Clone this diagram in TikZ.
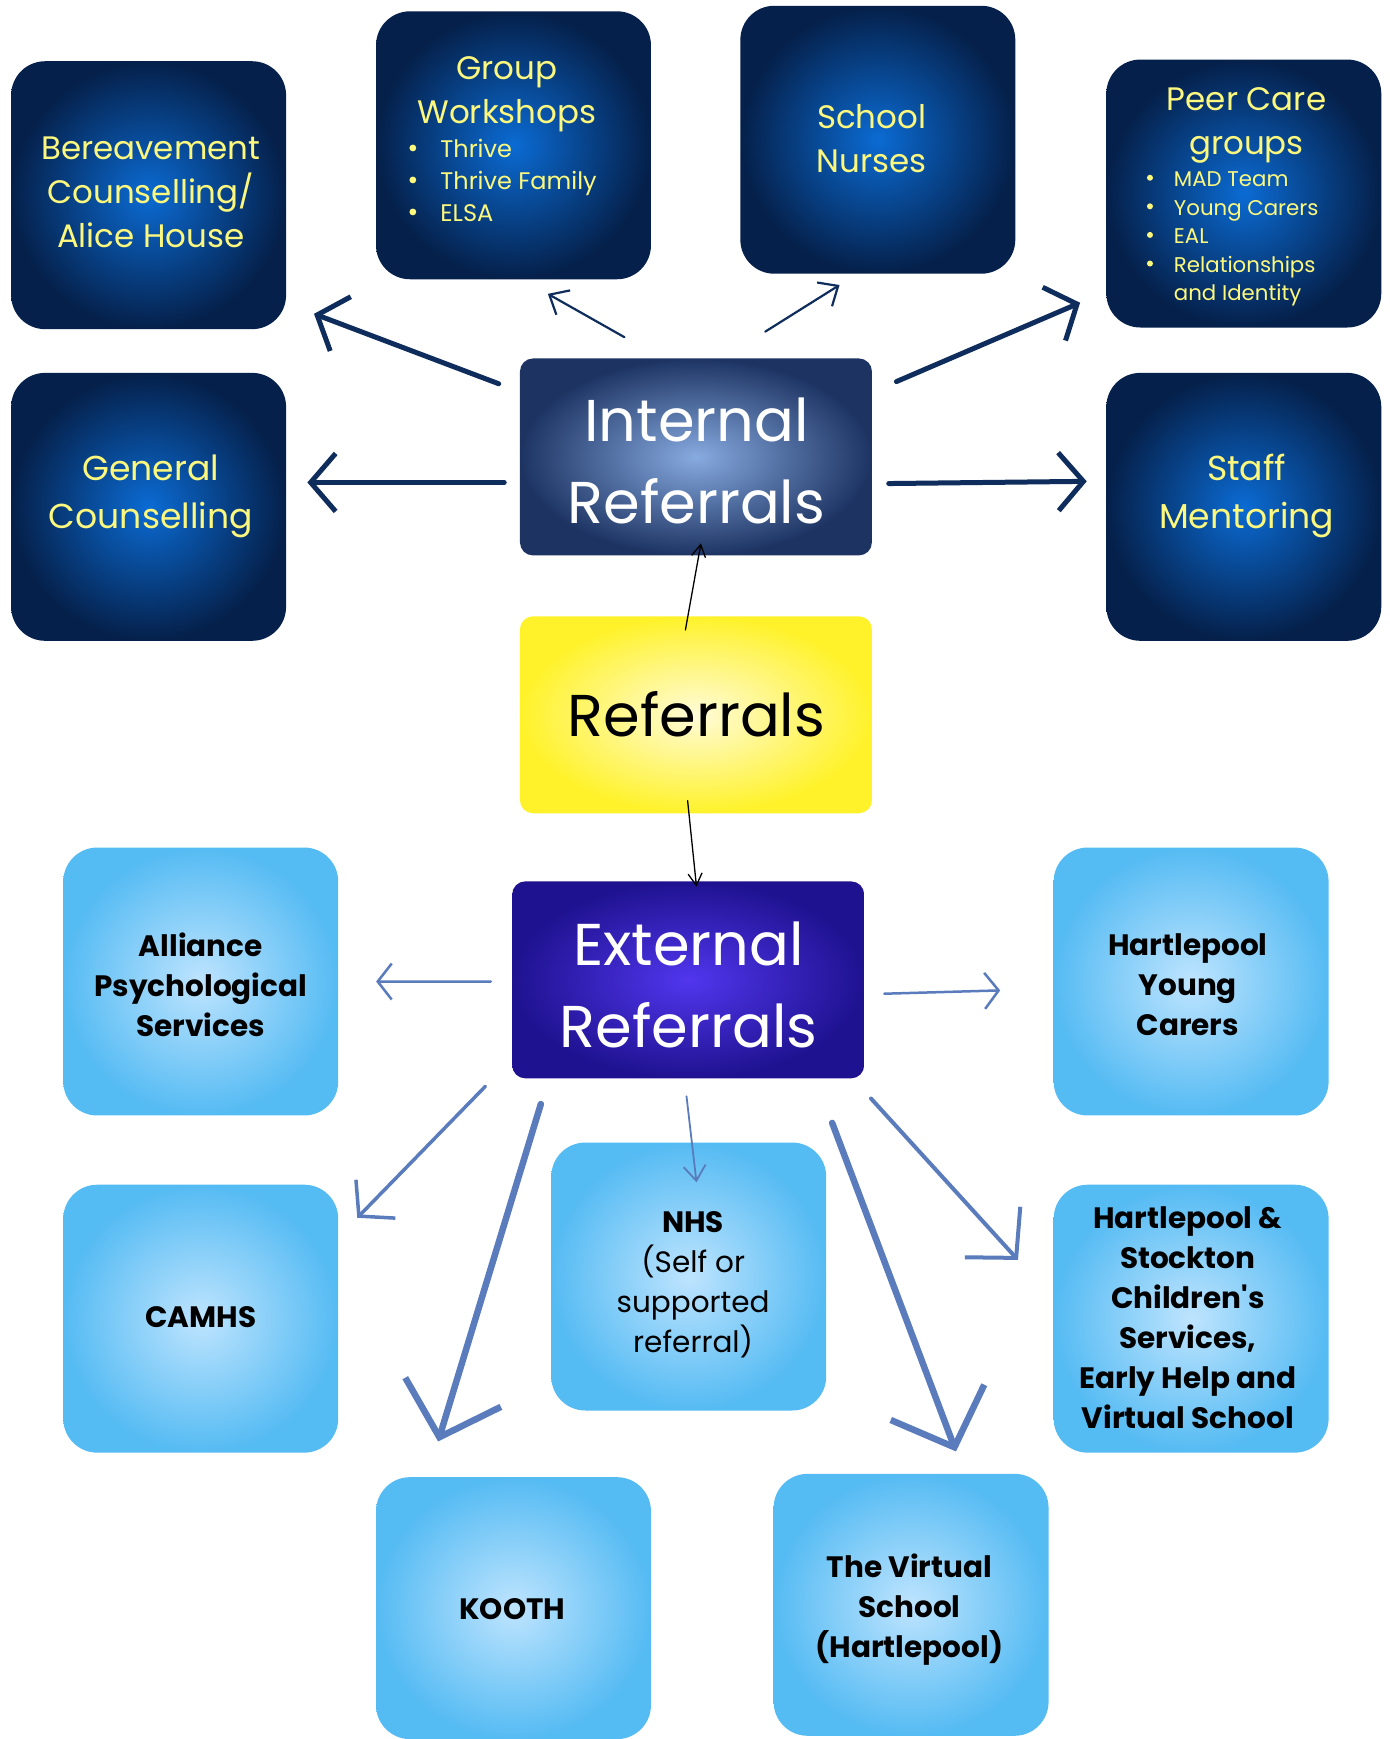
\documentclass[tikz,border=0pt]{standalone}
\usepackage{fontspec}
\setmainfont{Poppins}[Ligatures=TeXOff]
\usetikzlibrary{arrows.meta}
\definecolor{dkedge}{HTML}{05204A}
\definecolor{dkmid}{HTML}{0B6BD3}
\definecolor{ylw}{HTML}{FCF87E}
\definecolor{lbedge}{HTML}{55BBF3}
\definecolor{lbmid}{HTML}{BEE4FE}
\definecolor{intedge}{HTML}{1D3463}
\definecolor{intmid}{HTML}{87AAE0}
\definecolor{extedge}{HTML}{1F1290}
\definecolor{extmid}{HTML}{5136EE}
\definecolor{refedge}{HTML}{FFF22A}
\definecolor{refmid}{HTML}{FFFBD8}
\definecolor{inarrow}{HTML}{0E2D5C}
\definecolor{exarrow}{HTML}{5A7CBD}
\newcommand\gwbul{\makebox[31pt][l]{\raisebox{0.27em}{\tikz\fill[ylw] (0,0) circle (3.4pt);}}}
\newcommand\pcbul{\makebox[27pt][l]{\raisebox{0.27em}{\tikz\fill[ylw] (0,0) circle (3pt);}}}
\tikzset{
  dbox/.style={rectangle, rounded corners=34pt, shade, inner color=dkmid, outer color=dkedge, minimum width=275pt, minimum height=268pt, inner sep=0pt},
  lbox/.style={rectangle, rounded corners=34pt, shade, inner color=lbmid, outer color=lbedge, minimum width=275pt, minimum height=268pt, inner sep=0pt},
  cbox/.style={rectangle, rounded corners=13pt, shade, minimum width=352pt, minimum height=197pt, inner sep=0pt},
  ytxt/.style={text=ylw, align=center, inner sep=0pt, font=\fontsize{32.5}{44}\selectfont},
  ylist/.style={text=ylw, align=left, inner sep=0pt, anchor=west},
  btxt/.style={text=black, align=center, inner sep=0pt, font=\fontsize{29.5}{40}\selectfont\bfseries},
  bigtxt/.style={align=center, inner sep=0pt, font=\fontsize{59}{82}\selectfont},
  thickin/.style={draw=inarrow, line width=5pt, line cap=round, -{Straight Barb[length=25pt,width=58pt]}},
  thinin/.style={draw=inarrow, line width=2.2pt, line cap=round, -{Straight Barb[length=16pt,width=28pt]}},
  blk/.style={draw=black, line width=1.3pt, line cap=round, -{Straight Barb[length=12pt,width=14pt]}},
  exthin/.style={draw=exarrow, line width=2.5pt, line cap=round, -{Straight Barb[length=14pt,width=36pt]}},
}
\begin{document}
\begin{tikzpicture}[x=1.1093pt,y=-1.1093pt]
\useasboundingbox[fill=white] (0,0) rectangle (1253,1568);

% internal service boxes
\node[dbox] (bereav) at (134,176) {};
\node[dbox] (gw) at (463,131) {};
\node[dbox] (school) at (791.5,126) {};
\node[dbox] (peer) at (1121.5,174.5) {};
\node[dbox] (general) at (134,457) {};
\node[dbox] (staff) at (1121.5,457) {};

% centre boxes
\node[cbox, inner color=intmid, outer color=intedge] (intref) at (627.5,412) {};
\node[cbox, inner color=refmid, outer color=refedge] (ref) at (627.5,644.5) {};
\node[cbox, inner color=extmid, outer color=extedge] (ext) at (620.5,883.5) {};

% external service boxes
\node[lbox] (alliance) at (181,885) {};
\node[lbox] (hyc) at (1074,885) {};
\node[lbox] (camhs) at (181,1189) {};
\node[lbox] (nhs) at (621,1151) {};
\node[lbox] (hs) at (1074,1189) {};
\node[lbox, minimum height=262pt] (kooth) at (463,1450) {};
\node[lbox, minimum height=262pt] (virt) at (821.5,1447) {};

% texts
\node[ytxt] (bereavt) at (136,173) {Bereavement\\Counselling/\\Alice House};
\node[ytxt] (gwt) at (457,85) {Group\\Workshops};
\node[ylist, font=\fontsize{24}{32}\selectfont] (gwl) at (369,163) {\gwbul Thrive\\\gwbul Thrive Family\\\gwbul ELSA};
\node[ytxt] (schoolt) at (786,125) {School\\Nurses};
\node[ytxt] (peert) at (1124,113) {Peer Care\\groups};
\node[ylist, font=\fontsize{21.3}{28.6}\selectfont] (peerl) at (1034,215.5) {\pcbul MAD Team\\\pcbul Young Carers\\\pcbul EAL\\\pcbul Relationships\\\hspace*{27pt}and Identity};
\node[ytxt, font=\fontsize{34.6}{48}\selectfont] (generalt) at (136,447.5) {General\\Counselling};
\node[ytxt, font=\fontsize{34.6}{48}\selectfont] (stafft) at (1124,447.5) {Staff\\Mentoring};

\node[bigtxt, text=white] (intt) at (628,416) {Internal\\Referrals};
\node[bigtxt, text=black] (reft) at (628,644) {Referrals};
\node[bigtxt, text=white] (extt) at (621,888) {External\\Referrals};

\node[btxt] (alliancet) at (181,888) {Alliance\\Psychological\\Services};
\node[btxt] (hyct) at (1071,888) {Hartlepool\\Young\\Carers};
\node[btxt] (camhst) at (181,1188) {CAMHS};
\node[btxt] (nhst) at (625,1158) {NHS\\\mdseries(Self or\\\mdseries supported\\\mdseries referral)};
\node[btxt] (hst) at (1071,1188) {Hartlepool \&\\Stockton\\Children's\\Services,\\Early Help and\\Virtual School};
\node[btxt] (kootht) at (462,1451) {KOOTH};
\node[btxt] (virtt) at (820,1451) {The Virtual\\School\\(Hartlepool)};

% internal connectors
\draw[thickin] ([shift={(-19,23)}]intref.north west) -- ([shift={(25,-14)}]bereav.south east);
\draw[thinin] ([shift={(-64.5,-19)}]intref.north) -- ([shift={(31,13)}]gw.south);
\draw[thinin] ([shift={(62.5,-24)}]intref.north) -- ([shift={(-34.5,10)}]school.south);
\draw[thickin] ([shift={(22,21)}]intref.north east) -- ([shift={(-23.5,-22.5)}]peer.south west);
\draw[thickin] ([shift={(-14,23)}]intref.west) -- ([shift={(19,-22)}]general.east);
\draw[thickin] ([shift={(15,24)}]intref.east) -- ([shift={(-17.5,-23)}]staff.west);

% referral connectors
\draw[blk] ([shift={(-9.5,12.5)}]ref.north) -- ([shift={(4.5,-11)}]intref.south);
\draw[blk] ([shift={(-7.5,-11.5)}]ref.south) -- ([shift={(7.5,5)}]ext.north);

% external connectors
\draw[exthin] ([shift={(-19,1.5)}]ext.west) -- ([shift={(34,0)}]alliance.east);
\draw[exthin] ([shift={(18,12.5)}]ext.east) -- ([shift={(-48,8)}]hyc.west);
\draw[draw=exarrow, line width=3.5pt, line cap=round, -{Straight Barb[length=24pt,width=55pt]}] ([shift={(-24,7)}]ext.south west) -- ([shift={(17,30)}]camhs.north east);
\draw[draw=exarrow, line width=6.5pt, line cap=round, -{Straight Barb[length=47pt,width=100pt]}] ([shift={(26,23)}]ext.south west) -- ([shift={(-68,-32)}]kooth.north);
\draw[draw=exarrow, line width=1.8pt, line cap=round, -{Straight Barb[length=15pt,width=22pt]}] ([shift={(-1.5,16)}]ext.south) -- ([shift={(7,36)}]nhs.north);
\draw[draw=exarrow, line width=6.5pt, line cap=round, -{Straight Barb[length=48pt,width=100pt]}] ([shift={(-29,40)}]ext.south east) -- ([shift={(40.5,-20)}]virt.north);
\draw[draw=exarrow, line width=4pt, line cap=round, -{Straight Barb[length=35pt,width=75pt]}] ([shift={(6,18)}]ext.south east) -- ([shift={(-32,68)}]hs.north west);
\end{tikzpicture}
\end{document}
